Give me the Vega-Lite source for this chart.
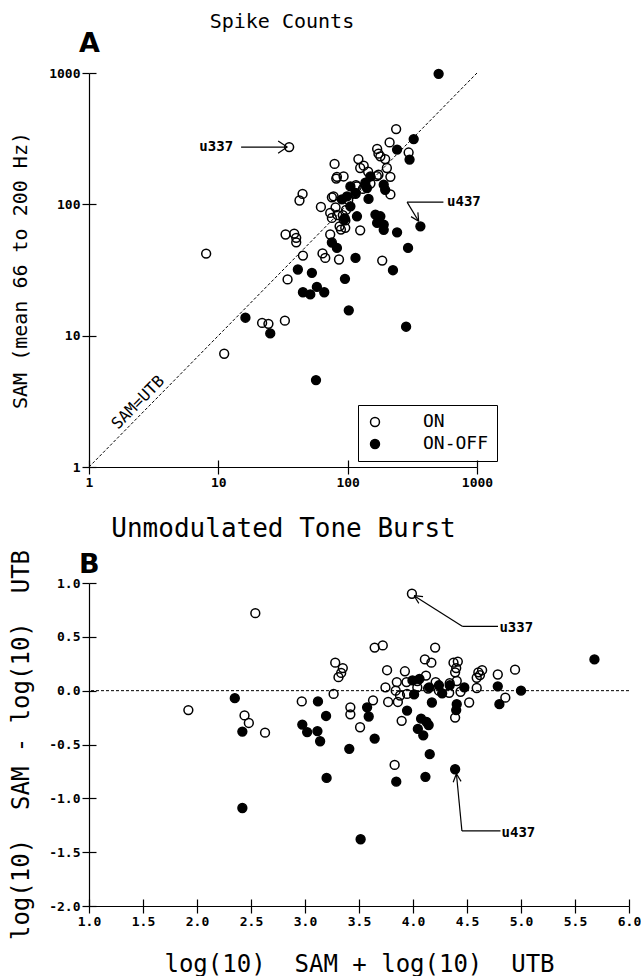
{
  "$schema": "https://vega.github.io/schema/vega-lite/v6.json",
  "background": "white",
  "padding": {"left": 9, "top": 12, "right": 0, "bottom": 0},
  "config": {
    "view": {"stroke": null},
    "font": "DejaVu Sans Mono",
    "axis": {
      "grid": false, "domainColor": "black", "tickColor": "black", "labelColor": "black", "titleColor": "black",
      "labelFont": "DejaVu Sans Mono", "labelFontWeight": "bold", "labelFontSize": 13,
      "titleFont": "DejaVu Sans Mono", "titleFontWeight": "normal",
      "tickSize": 7, "domainWidth": 1.2, "tickWidth": 1.2, "labelOverlap": false, "labelFlush": false, "labelPadding": 2
    }
  },
  "title": {"text": "Spike Counts", "font": "DejaVu Sans Mono", "fontSize": 20, "fontWeight": "normal", "color": "black", "anchor": "start", "dx": 200, "offset": -2},
  "datasets": {
    "a": [
      {"utb": 35.3, "sam": 273, "type": "ON"},
      {"utb": 79.2, "sam": 203, "type": "ON"},
      {"utb": 81.6, "sam": 157, "type": "ON"},
      {"utb": 44.8, "sam": 120, "type": "ON"},
      {"utb": 42.4, "sam": 107, "type": "ON"},
      {"utb": 62.1, "sam": 95.5, "type": "ON"},
      {"utb": 75.5, "sam": 113, "type": "ON"},
      {"utb": 80.6, "sam": 94.9, "type": "ON"},
      {"utb": 75.5, "sam": 78.8, "type": "ON"},
      {"utb": 33.1, "sam": 58.9, "type": "ON"},
      {"utb": 38.6, "sam": 59.9, "type": "ON"},
      {"utb": 40.0, "sam": 55.6, "type": "ON"},
      {"utb": 40.0, "sam": 51.4, "type": "ON"},
      {"utb": 73.3, "sam": 58.9, "type": "ON"},
      {"utb": 8.05, "sam": 42.2, "type": "ON"},
      {"utb": 88.7, "sam": 64.2, "type": "ON"},
      {"utb": 125, "sam": 63.4, "type": "ON"},
      {"utb": 45.1, "sam": 40.7, "type": "ON"},
      {"utb": 63.9, "sam": 42.3, "type": "ON"},
      {"utb": 67.1, "sam": 39.1, "type": "ON"},
      {"utb": 85.7, "sam": 38.0, "type": "ON"},
      {"utb": 185, "sam": 37.3, "type": "ON"},
      {"utb": 34.3, "sam": 26.8, "type": "ON"},
      {"utb": 21.8, "sam": 12.5, "type": "ON"},
      {"utb": 24.4, "sam": 12.3, "type": "ON"},
      {"utb": 32.7, "sam": 13.0, "type": "ON"},
      {"utb": 11.1, "sam": 7.28, "type": "ON"},
      {"utb": 93, "sam": 76.4, "type": "ON"},
      {"utb": 237, "sam": 374, "type": "ON"},
      {"utb": 211, "sam": 296, "type": "ON"},
      {"utb": 296, "sam": 248, "type": "ON"},
      {"utb": 169, "sam": 264, "type": "ON"},
      {"utb": 173, "sam": 243, "type": "ON"},
      {"utb": 179, "sam": 232, "type": "ON"},
      {"utb": 195, "sam": 221, "type": "ON"},
      {"utb": 121, "sam": 221, "type": "ON"},
      {"utb": 133, "sam": 197, "type": "ON"},
      {"utb": 125, "sam": 189, "type": "ON"},
      {"utb": 82.6, "sam": 162, "type": "ON"},
      {"utb": 93, "sam": 163, "type": "ON"},
      {"utb": 201, "sam": 189, "type": "ON"},
      {"utb": 173, "sam": 168, "type": "ON"},
      {"utb": 214, "sam": 162, "type": "ON"},
      {"utb": 214, "sam": 119, "type": "ON"},
      {"utb": 77.8, "sam": 115, "type": "ON"},
      {"utb": 73.3, "sam": 86, "type": "ON"},
      {"utb": 95.8, "sam": 66.2, "type": "ON"},
      {"utb": 118, "sam": 137, "type": "ON"},
      {"utb": 101, "sam": 108, "type": "ON"},
      {"utb": 115, "sam": 120, "type": "ON"},
      {"utb": 131, "sam": 131, "type": "ON"},
      {"utb": 150, "sam": 144, "type": "ON"},
      {"utb": 168, "sam": 164, "type": "ON"},
      {"utb": 86.6, "sam": 68, "type": "ON"},
      {"utb": 96, "sam": 75.4, "type": "ON"},
      {"utb": 97.2, "sam": 90.7, "type": "ON"},
      {"utb": 83, "sam": 83, "type": "ON"},
      {"utb": 91.7, "sam": 82.6, "type": "ON"},
      {"utb": 116, "sam": 140, "type": "ON"},
      {"utb": 144, "sam": 177, "type": "ON"},
      {"utb": 505, "sam": 986, "type": "ON-OFF"},
      {"utb": 324, "sam": 314, "type": "ON-OFF"},
      {"utb": 241, "sam": 261, "type": "ON-OFF"},
      {"utb": 301, "sam": 219, "type": "ON-OFF"},
      {"utb": 190, "sam": 141, "type": "ON-OFF"},
      {"utb": 195, "sam": 129, "type": "ON-OFF"},
      {"utb": 150, "sam": 163, "type": "ON-OFF"},
      {"utb": 137, "sam": 146, "type": "ON-OFF"},
      {"utb": 141, "sam": 133, "type": "ON-OFF"},
      {"utb": 145, "sam": 110, "type": "ON-OFF"},
      {"utb": 105, "sam": 137, "type": "ON-OFF"},
      {"utb": 115, "sam": 122, "type": "ON-OFF"},
      {"utb": 98.8, "sam": 115, "type": "ON-OFF"},
      {"utb": 90.3, "sam": 109, "type": "ON-OFF"},
      {"utb": 105, "sam": 96.6, "type": "ON-OFF"},
      {"utb": 118, "sam": 81.1, "type": "ON-OFF"},
      {"utb": 95, "sam": 78, "type": "ON-OFF"},
      {"utb": 164, "sam": 83.5, "type": "ON-OFF"},
      {"utb": 179, "sam": 81.1, "type": "ON-OFF"},
      {"utb": 190, "sam": 70.1, "type": "ON-OFF"},
      {"utb": 169, "sam": 72.2, "type": "ON-OFF"},
      {"utb": 241, "sam": 61.2, "type": "ON-OFF"},
      {"utb": 365, "sam": 68, "type": "ON-OFF"},
      {"utb": 293, "sam": 46.6, "type": "ON-OFF"},
      {"utb": 75.5, "sam": 51.2, "type": "ON-OFF"},
      {"utb": 82.6, "sam": 46.6, "type": "ON-OFF"},
      {"utb": 115, "sam": 39.1, "type": "ON-OFF"},
      {"utb": 224, "sam": 31.5, "type": "ON-OFF"},
      {"utb": 41.2, "sam": 31.9, "type": "ON-OFF"},
      {"utb": 52.9, "sam": 30.1, "type": "ON-OFF"},
      {"utb": 95.3, "sam": 27.1, "type": "ON-OFF"},
      {"utb": 45.1, "sam": 21.4, "type": "ON-OFF"},
      {"utb": 51.4, "sam": 20.6, "type": "ON-OFF"},
      {"utb": 57.8, "sam": 23.5, "type": "ON-OFF"},
      {"utb": 65.9, "sam": 21.4, "type": "ON-OFF"},
      {"utb": 102, "sam": 15.6, "type": "ON-OFF"},
      {"utb": 16.2, "sam": 13.7, "type": "ON-OFF"},
      {"utb": 25.2, "sam": 10.4, "type": "ON-OFF"},
      {"utb": 283, "sam": 11.7, "type": "ON-OFF"},
      {"utb": 56.9, "sam": 4.59, "type": "ON-OFF"},
      {"utb": 190, "sam": 64, "type": "ON-OFF"}
    ],
    "b": [
      {"sum": 2.54, "diff": 0.72, "type": "ON"},
      {"sum": 1.92, "diff": -0.18, "type": "ON"},
      {"sum": 2.44, "diff": -0.23, "type": "ON"},
      {"sum": 2.48, "diff": -0.30, "type": "ON"},
      {"sum": 2.63, "diff": -0.39, "type": "ON"},
      {"sum": 3.99, "diff": 0.90, "type": "ON"},
      {"sum": 3.645, "diff": 0.40, "type": "ON"},
      {"sum": 3.72, "diff": 0.42, "type": "ON"},
      {"sum": 4.205, "diff": 0.40, "type": "ON"},
      {"sum": 4.11, "diff": 0.29, "type": "ON"},
      {"sum": 4.17, "diff": 0.26, "type": "ON"},
      {"sum": 3.28, "diff": 0.26, "type": "ON"},
      {"sum": 3.35, "diff": 0.21, "type": "ON"},
      {"sum": 3.335, "diff": 0.165, "type": "ON"},
      {"sum": 3.31, "diff": 0.125, "type": "ON"},
      {"sum": 3.76, "diff": 0.19, "type": "ON"},
      {"sum": 3.925, "diff": 0.18, "type": "ON"},
      {"sum": 4.375, "diff": 0.26, "type": "ON"},
      {"sum": 4.415, "diff": 0.27, "type": "ON"},
      {"sum": 4.39, "diff": 0.17, "type": "ON"},
      {"sum": 4.40, "diff": 0.21, "type": "ON"},
      {"sum": 4.12, "diff": 0.14, "type": "ON"},
      {"sum": 4.605, "diff": 0.17, "type": "ON"},
      {"sum": 4.64, "diff": 0.19, "type": "ON"},
      {"sum": 4.59, "diff": 0.12, "type": "ON"},
      {"sum": 4.62, "diff": 0.145, "type": "ON"},
      {"sum": 4.785, "diff": 0.15, "type": "ON"},
      {"sum": 4.945, "diff": 0.195, "type": "ON"},
      {"sum": 3.85, "diff": 0.08, "type": "ON"},
      {"sum": 3.94, "diff": 0.08, "type": "ON"},
      {"sum": 4.04, "diff": 0.09, "type": "ON"},
      {"sum": 4.21, "diff": 0.08, "type": "ON"},
      {"sum": 4.34, "diff": 0.07, "type": "ON"},
      {"sum": 4.405, "diff": 0.09, "type": "ON"},
      {"sum": 3.745, "diff": 0.03, "type": "ON"},
      {"sum": 3.84, "diff": 0.0, "type": "ON"},
      {"sum": 3.88, "diff": -0.045, "type": "ON"},
      {"sum": 3.77, "diff": -0.105, "type": "ON"},
      {"sum": 3.86, "diff": -0.105, "type": "ON"},
      {"sum": 3.945, "diff": -0.03, "type": "ON"},
      {"sum": 4.04, "diff": 0.03, "type": "ON"},
      {"sum": 4.14, "diff": 0.02, "type": "ON"},
      {"sum": 4.24, "diff": 0.0, "type": "ON"},
      {"sum": 4.335, "diff": -0.02, "type": "ON"},
      {"sum": 4.44, "diff": -0.01, "type": "ON"},
      {"sum": 4.52, "diff": -0.11, "type": "ON"},
      {"sum": 4.59, "diff": 0.025, "type": "ON"},
      {"sum": 4.855, "diff": -0.065, "type": "ON"},
      {"sum": 4.39, "diff": -0.25, "type": "ON"},
      {"sum": 3.895, "diff": -0.28, "type": "ON"},
      {"sum": 3.63, "diff": -0.09, "type": "ON"},
      {"sum": 3.42, "diff": -0.155, "type": "ON"},
      {"sum": 3.42, "diff": -0.22, "type": "ON"},
      {"sum": 3.51, "diff": -0.34, "type": "ON"},
      {"sum": 2.97, "diff": -0.10, "type": "ON"},
      {"sum": 3.265, "diff": -0.03, "type": "ON"},
      {"sum": 3.83, "diff": -0.69, "type": "ON"},
      {"sum": 2.35, "diff": -0.07, "type": "ON-OFF"},
      {"sum": 2.42, "diff": -0.38, "type": "ON-OFF"},
      {"sum": 2.42, "diff": -1.09, "type": "ON-OFF"},
      {"sum": 4.39, "diff": -0.73, "type": "ON-OFF"},
      {"sum": 5.68, "diff": 0.29, "type": "ON-OFF"},
      {"sum": 3.995, "diff": 0.095, "type": "ON-OFF"},
      {"sum": 4.06, "diff": 0.11, "type": "ON-OFF"},
      {"sum": 4.24, "diff": 0.05, "type": "ON-OFF"},
      {"sum": 4.34, "diff": 0.05, "type": "ON-OFF"},
      {"sum": 4.475, "diff": 0.03, "type": "ON-OFF"},
      {"sum": 4.785, "diff": 0.04, "type": "ON-OFF"},
      {"sum": 5.00, "diff": 0.00, "type": "ON-OFF"},
      {"sum": 3.945, "diff": -0.185, "type": "ON-OFF"},
      {"sum": 4.175, "diff": -0.11, "type": "ON-OFF"},
      {"sum": 4.405, "diff": -0.125, "type": "ON-OFF"},
      {"sum": 4.80, "diff": -0.125, "type": "ON-OFF"},
      {"sum": 4.075, "diff": -0.26, "type": "ON-OFF"},
      {"sum": 4.125, "diff": -0.29, "type": "ON-OFF"},
      {"sum": 4.045, "diff": -0.355, "type": "ON-OFF"},
      {"sum": 4.095, "diff": -0.415, "type": "ON-OFF"},
      {"sum": 4.145, "diff": -0.32, "type": "ON-OFF"},
      {"sum": 4.155, "diff": -0.59, "type": "ON-OFF"},
      {"sum": 4.115, "diff": -0.80, "type": "ON-OFF"},
      {"sum": 3.575, "diff": -0.155, "type": "ON-OFF"},
      {"sum": 3.59, "diff": -0.24, "type": "ON-OFF"},
      {"sum": 3.645, "diff": -0.445, "type": "ON-OFF"},
      {"sum": 3.12, "diff": -0.10, "type": "ON-OFF"},
      {"sum": 3.195, "diff": -0.235, "type": "ON-OFF"},
      {"sum": 2.975, "diff": -0.315, "type": "ON-OFF"},
      {"sum": 3.02, "diff": -0.385, "type": "ON-OFF"},
      {"sum": 3.115, "diff": -0.375, "type": "ON-OFF"},
      {"sum": 3.14, "diff": -0.47, "type": "ON-OFF"},
      {"sum": 3.41, "diff": -0.54, "type": "ON-OFF"},
      {"sum": 3.845, "diff": -0.845, "type": "ON-OFF"},
      {"sum": 3.20, "diff": -0.81, "type": "ON-OFF"},
      {"sum": 3.515, "diff": -1.38, "type": "ON-OFF"},
      {"sum": 4.15, "diff": 0.03, "type": "ON-OFF"},
      {"sum": 4.01, "diff": -0.035, "type": "ON-OFF"},
      {"sum": 4.27, "diff": -0.025, "type": "ON-OFF"},
      {"sum": 4.40, "diff": -0.18, "type": "ON-OFF"}
    ],
    "aseg": [
      {"x": 15.0, "y": 273, "x2": 34.1, "y2": 273},
      {"x": 29.0, "y": 303, "x2": 34.1, "y2": 273},
      {"x": 29.0, "y": 245, "x2": 34.1, "y2": 273},
      {"x": 288, "y": 104, "x2": 550, "y2": 104},
      {"x": 288, "y": 104, "x2": 354, "y2": 74.3},
      {"x": 309, "y": 80.6, "x2": 354, "y2": 74.3},
      {"x": 349, "y": 86.8, "x2": 354, "y2": 74.3}
    ],
    "atext": [
      {"x": 13.0, "y": 273, "label": "u337", "side": "right"},
      {"x": 587, "y": 104, "label": "u437", "side": "left"}
    ],
    "bseg": [
      {"x": 4.010, "y": 0.882, "x2": 4.456, "y2": 0.598},
      {"x": 4.456, "y": 0.598, "x2": 4.787, "y2": 0.598},
      {"x": 4.093, "y": 0.874, "x2": 4.010, "y2": 0.882},
      {"x": 4.054, "y": 0.811, "x2": 4.010, "y2": 0.882},
      {"x": 4.453, "y": -1.303, "x2": 4.402, "y2": -0.772},
      {"x": 4.453, "y": -1.303, "x2": 4.810, "y2": -1.303},
      {"x": 4.445, "y": -0.842, "x2": 4.402, "y2": -0.772},
      {"x": 4.372, "y": -0.850, "x2": 4.402, "y2": -0.772}
    ],
    "btext": [
      {"x": 4.80, "y": 0.58, "label": "u337"},
      {"x": 4.82, "y": -1.32, "label": "u437"}
    ]
  },
  "bounds": "flush",
  "spacing": 116,
  "resolve": {"scale": {"fill": "independent"}, "legend": {"fill": "independent"}},
  "vconcat": [
    {
      "width": 388,
      "height": 394,
      "title": {"text": "A", "anchor": "start", "frame": "group", "font": "DejaVu Sans", "fontWeight": "bold", "fontSize": 27, "dx": -10, "offset": 8, "color": "black"},
      "resolve": {"axis": {"x": "independent", "y": "independent"}},
      "layer": [
        {
          "layer": [
            {
              "data": {"values": [{"x": 1, "y": 1, "x2": 1000, "y2": 1000}]},
              "mark": {"type": "rule", "strokeDash": [3, 2], "strokeWidth": 1, "color": "black"},
              "encoding": {
                "x": {"field": "x", "type": "quantitative", "scale": {"type": "log", "domain": [1, 1000]},
                      "axis": {"title": "Unmodulated Tone Burst", "titleFontSize": 26, "titlePadding": 26, "values": [1, 10, 100, 1000], "format": "d"}},
                "y": {"field": "y", "type": "quantitative", "scale": {"type": "log", "domain": [1, 1000]},
                      "axis": {"title": "SAM (mean 66 to 200 Hz)", "titleFontSize": 20, "titlePadding": 18, "values": [1, 10, 100, 1000], "format": "d"}},
                "x2": {"field": "x2"},
                "y2": {"field": "y2"}
              }
            },
            {
              "data": {"name": "a"},
              "mark": {"type": "point", "shape": "circle", "size": 78, "strokeWidth": 1.5, "stroke": "black", "opacity": 1},
              "encoding": {
                "x": {"field": "utb", "type": "quantitative"},
                "y": {"field": "sam", "type": "quantitative"},
                "fill": {"field": "type", "type": "nominal", "scale": {"domain": ["ON", "ON-OFF"], "range": ["transparent", "black"]},
                         "legend": {"orient": "none", "legendX": 269, "legendY": 332, "title": null, "labelFont": "DejaVu Sans Mono", "labelFontSize": 18, "labelColor": "black", "symbolType": "circle", "symbolSize": 80, "symbolStrokeWidth": 1.5, "symbolStrokeColor": "black", "strokeColor": "black", "padding": 8, "rowPadding": 4, "labelOffset": 39, "encode": {"legend": {"update": {"strokeWidth": {"value": 2}}}}}}
              }
            },
            {
              "data": {"name": "aseg"},
              "mark": {"type": "rule", "strokeWidth": 1.2, "color": "black"},
              "encoding": {
                "x": {"field": "x", "type": "quantitative"},
                "y": {"field": "y", "type": "quantitative"},
                "x2": {"field": "x2"},
                "y2": {"field": "y2"}
              }
            },
            {
              "data": {"name": "atext"},
              "transform": [{"filter": "datum.side == 'right'"}],
              "mark": {"type": "text", "align": "right", "baseline": "middle", "font": "DejaVu Sans Mono", "fontWeight": "bold", "fontSize": 14, "color": "black"},
              "encoding": {
                "x": {"field": "x", "type": "quantitative"},
                "y": {"field": "y", "type": "quantitative"},
                "text": {"field": "label"}
              }
            },
            {
              "data": {"name": "atext"},
              "transform": [{"filter": "datum.side == 'left'"}],
              "mark": {"type": "text", "align": "left", "baseline": "middle", "font": "DejaVu Sans Mono", "fontWeight": "bold", "fontSize": 14, "color": "black"},
              "encoding": {
                "x": {"field": "x", "type": "quantitative"},
                "y": {"field": "y", "type": "quantitative"},
                "text": {"field": "label"}
              }
            },
            {
              "data": {"values": [{"x": 2.4, "y": 3.1, "label": "SAM=UTB"}]},
              "mark": {"type": "text", "align": "center", "baseline": "middle", "angle": 314.5, "font": "DejaVu Sans Mono", "fontSize": 16, "color": "black"},
              "encoding": {
                "x": {"field": "x", "type": "quantitative"},
                "y": {"field": "y", "type": "quantitative"},
                "text": {"field": "label"}
              }
            }
          ]
        },
        {
          "data": {"values": [{"x": 1, "y": 1}]},
          "mark": {"type": "point", "opacity": 0},
          "encoding": {
            "x": {"field": "x", "type": "quantitative", "axis": {"orient": "bottom", "labels": false, "domain": false, "title": null, "tickSize": -7, "values": [1, 10, 100, 1000]}},
            "y": {"field": "y", "type": "quantitative", "axis": {"orient": "left", "labels": false, "domain": false, "title": null, "tickSize": -7, "values": [1, 10, 100, 1000]}}
          }
        }
      ]
    },
    {
      "width": 540,
      "height": 323,
      "title": {"text": "B", "anchor": "start", "frame": "group", "font": "DejaVu Sans", "fontWeight": "bold", "fontSize": 27, "dx": -10, "offset": -30, "color": "black"},
      "resolve": {"axis": {"x": "independent", "y": "independent"}},
      "layer": [
        {
          "layer": [
            {
              "data": {"values": [{"y": 0}]},
              "mark": {"type": "rule", "strokeDash": [3, 2], "strokeWidth": 1, "color": "black"},
              "encoding": {
                "y": {"field": "y", "type": "quantitative", "scale": {"domain": [-2, 1], "nice": false, "zero": false},
                      "axis": {"title": "log(10)\u00a0 SAM - log(10)\u00a0 UTB", "titleFontSize": 24, "titlePadding": 15,
                               "values": [-2, -1.5, -1, -0.5, 0, 0.5, 1], "labelExpr": "replace(format(datum.value, '.1f'), '\u2212', '-')"}}
              }
            },
            {
              "data": {"name": "b"},
              "mark": {"type": "point", "shape": "circle", "size": 78, "strokeWidth": 1.5, "stroke": "black", "opacity": 1},
              "encoding": {
                "x": {"field": "sum", "type": "quantitative", "scale": {"domain": [1, 6], "nice": false, "zero": false},
                      "axis": {"title": "log(10)\u00a0 SAM + log(10)\u00a0 UTB", "titleFontSize": 24, "titlePadding": 24,
                               "values": [1, 1.5, 2, 2.5, 3, 3.5, 4, 4.5, 5, 5.5, 6], "format": ".1f"}},
                "y": {"field": "diff", "type": "quantitative"},
                "fill": {"field": "type", "type": "nominal", "scale": {"domain": ["ON", "ON-OFF"], "range": ["transparent", "black"]}, "legend": null}
              }
            },
            {
              "data": {"name": "bseg"},
              "mark": {"type": "rule", "strokeWidth": 1.2, "color": "black"},
              "encoding": {
                "x": {"field": "x", "type": "quantitative"},
                "y": {"field": "y", "type": "quantitative"},
                "x2": {"field": "x2"},
                "y2": {"field": "y2"}
              }
            },
            {
              "data": {"name": "btext"},
              "mark": {"type": "text", "align": "left", "baseline": "middle", "font": "DejaVu Sans Mono", "fontWeight": "bold", "fontSize": 14, "color": "black"},
              "encoding": {
                "x": {"field": "x", "type": "quantitative"},
                "y": {"field": "y", "type": "quantitative"},
                "text": {"field": "label"}
              }
            }
          ]
        },
        {
          "data": {"values": [{"x": 1, "y": 0}]},
          "mark": {"type": "point", "opacity": 0},
          "encoding": {
            "x": {"field": "x", "type": "quantitative", "axis": {"orient": "bottom", "labels": false, "domain": false, "title": null, "tickSize": -7, "values": [1, 1.5, 2, 2.5, 3, 3.5, 4, 4.5, 5, 5.5, 6]}},
            "y": {"field": "y", "type": "quantitative", "axis": {"orient": "left", "labels": false, "domain": false, "title": null, "tickSize": -7, "values": [-2, -1.5, -1, -0.5, 0, 0.5, 1]}}
          }
        }
      ]
    }
  ]
}
